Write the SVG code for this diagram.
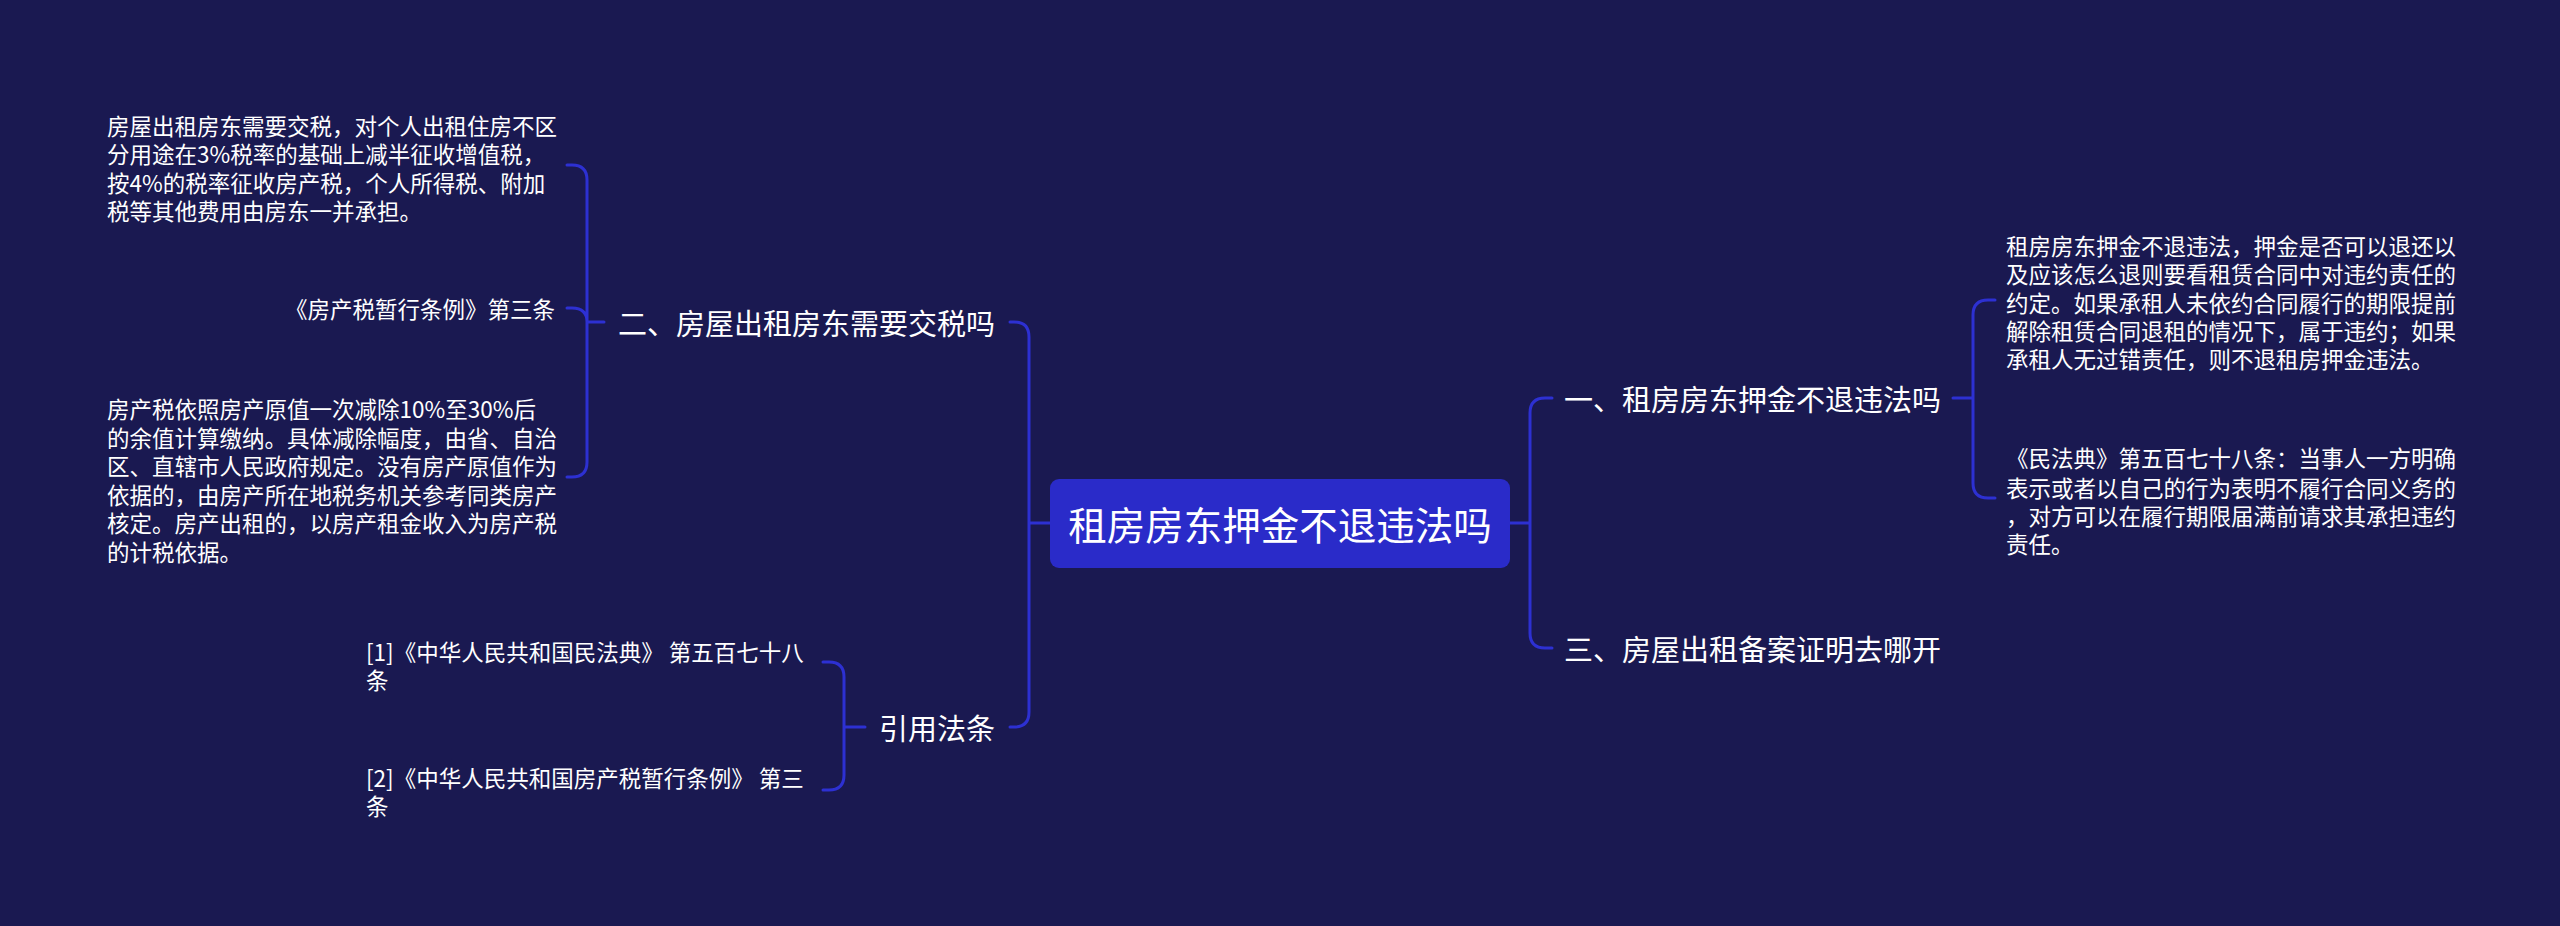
<svg xmlns="http://www.w3.org/2000/svg" width="2560" height="926" viewBox="0 0 2560 926">
<style>
text{font-family:"Noto Sans CJK SC","Noto Sans",sans-serif;fill:#ffffff;dominant-baseline:central}
.c{font-size:38.5px}
.l1{font-size:29px}
.l2{font-size:22.5px}
.e{text-anchor:end}
.m{text-anchor:middle}
.ln{fill:none;stroke:#2d30d2;stroke-width:3;stroke-linecap:round}
</style>
<rect x="0" y="0" width="2560" height="926" fill="#1a1951"/>
<g id="connectors" class="ln">
<path class="ln" d="M1050,523 H1029 M1029,523 V337 Q1029,322 1014,322 H1010 M1029,523 V712 Q1029,727 1014,727 H1010"/>
<path class="ln" d="M1509,523 H1530 M1530,523 V413 Q1530,398 1545,398 H1552 M1530,523 V633 Q1530,648 1545,648 H1552"/>
<path class="ln" d="M604,322 H587 M587,322 V180 Q587,165 572,165 H567 M587,322 C587,313 582,308 572,308 H567 M587,322 V462 Q587,477 572,477 H567"/>
<path class="ln" d="M865,727 H844 M844,727 V677 Q844,662 829,662 H823 M844,727 V775 Q844,790 829,790 H823"/>
<path class="ln" d="M1953,398 H1973 M1973,398 V315 Q1973,300 1988,300 H1995 M1973,398 V483 Q1973,498 1988,498 H1995"/>
</g>
<g id="root">
<rect x="1050" y="479" width="460" height="89" rx="9" fill="#2a2bc9"/>
<text class="c m" x="1280" y="523">租房房东押金不退违法吗</text>
</g>
<g id="n-tax">
<text class="l1 e" x="995" y="322">二、房屋出租房东需要交税吗</text>
</g>
<g id="n-tax-1">
<text class="l2" x="107" y="125">房屋出租房东需要交税，对个人出租住房不区</text>
<text class="l2" x="107" y="153">分用途在3%税率的基础上减半征收增值税，</text>
<text class="l2" x="107" y="182">按4%的税率征收房产税，个人所得税、附加</text>
<text class="l2" x="107" y="210">税等其他费用由房东一并承担。</text>
</g>
<g id="n-tax-2">
<text class="l2 e" x="555" y="308">《房产税暂行条例》第三条</text>
</g>
<g id="n-tax-3">
<text class="l2" x="107" y="408">房产税依照房产原值一次减除10%至30%后</text>
<text class="l2" x="107" y="437">的余值计算缴纳。具体减除幅度，由省、自治</text>
<text class="l2" x="107" y="465">区、直辖市人民政府规定。没有房产原值作为</text>
<text class="l2" x="107" y="494">依据的，由房产所在地税务机关参考同类房产</text>
<text class="l2" x="107" y="522">核定。房产出租的，以房产租金收入为房产税</text>
<text class="l2" x="107" y="551">的计税依据。</text>
</g>
<g id="n-law">
<text class="l1 e" x="995" y="727">引用法条</text>
</g>
<g id="n-law-1">
<text class="l2" x="366" y="651">[1]《中华人民共和国民法典》 第五百七十八</text>
<text class="l2" x="366" y="679">条</text>
</g>
<g id="n-law-2">
<text class="l2" x="366" y="777">[2]《中华人民共和国房产税暂行条例》 第三</text>
<text class="l2" x="366" y="805">条</text>
</g>
<g id="n-deposit">
<text class="l1" x="1564" y="398">一、租房房东押金不退违法吗</text>
</g>
<g id="n-deposit-1">
<text class="l2" x="2006" y="245">租房房东押金不退违法，押金是否可以退还以</text>
<text class="l2" x="2006" y="273">及应该怎么退则要看租赁合同中对违约责任的</text>
<text class="l2" x="2006" y="302">约定。如果承租人未依约合同履行的期限提前</text>
<text class="l2" x="2006" y="330">解除租赁合同退租的情况下，属于违约；如果</text>
<text class="l2" x="2006" y="358">承租人无过错责任，则不退租房押金违法。</text>
</g>
<g id="n-deposit-2">
<text class="l2" x="2006" y="457">《民法典》第五百七十八条：当事人一方明确</text>
<text class="l2" x="2006" y="487">表示或者以自己的行为表明不履行合同义务的</text>
<text class="l2" x="2006" y="515">，对方可以在履行期限届满前请求其承担违约</text>
<text class="l2" x="2006" y="543">责任。</text>
</g>
<g id="n-record">
<text class="l1" x="1564" y="648">三、房屋出租备案证明去哪开</text>
</g>
</svg>
